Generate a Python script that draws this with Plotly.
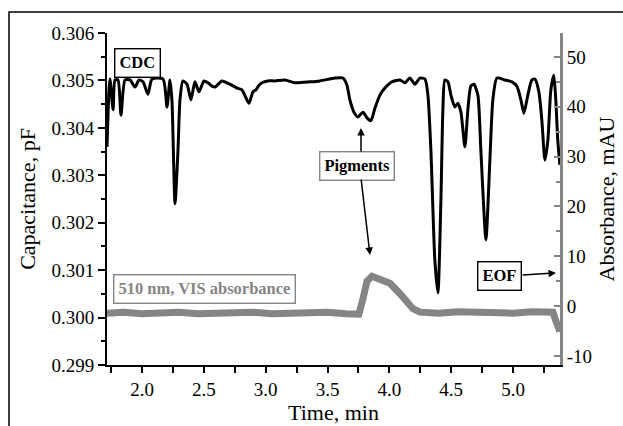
import plotly.graph_objects as go

# CDC trace (capacitance, pF) vs time (min)
cdc_time = [1.717, 1.733, 1.741, 1.766, 1.782, 1.806, 1.830, 1.863, 1.903, 1.943, 1.976, 2.008,
            2.048, 2.081, 2.170, 2.202, 2.226, 2.242, 2.267, 2.291, 2.307, 2.331, 2.364, 2.396,
            2.428, 2.461, 2.501, 2.533, 2.566, 2.590, 2.647, 2.711, 2.768, 2.808, 2.865, 2.897,
            2.921, 2.946, 2.970, 3.018, 3.075, 3.156, 3.237, 3.358, 3.439, 3.560, 3.625, 3.657,
            3.681, 3.714, 3.746, 3.787, 3.819, 3.851, 3.884, 3.924, 3.964, 4.021, 4.086, 4.126,
            4.166, 4.207, 4.247, 4.288, 4.312, 4.336, 4.368, 4.393, 4.417, 4.433, 4.449, 4.474,
            4.498, 4.530, 4.554, 4.579, 4.611, 4.635, 4.659, 4.684, 4.716, 4.740, 4.781, 4.813,
            4.837, 4.870, 4.934, 4.991, 5.031, 5.064, 5.088, 5.120, 5.152, 5.177, 5.209, 5.233,
            5.258, 5.282, 5.306, 5.330, 5.346, 5.362, 5.379]
cdc_cap = [0.30360, 0.30480, 0.30503, 0.30438, 0.30501, 0.30501, 0.30427, 0.30501, 0.30501, 0.30486,
           0.30501, 0.30497, 0.30471, 0.30503, 0.30503, 0.30444, 0.30501, 0.30459, 0.30240, 0.30353,
           0.30459, 0.30499, 0.30492, 0.30459, 0.30497, 0.30476, 0.30499, 0.30495, 0.30488, 0.30486,
           0.30499, 0.30492, 0.30484, 0.30480, 0.30452, 0.30476, 0.30480, 0.30490, 0.30495, 0.30499,
           0.30499, 0.30501, 0.30495, 0.30497, 0.30499, 0.30505, 0.30505, 0.30490, 0.30459, 0.30433,
           0.30423, 0.30433, 0.30421, 0.30415, 0.30442, 0.30469, 0.30484, 0.30497, 0.30501, 0.30495,
           0.30505, 0.30492, 0.30505, 0.30503, 0.30469, 0.30353, 0.30121, 0.30052, 0.30248, 0.30438,
           0.30501, 0.30497, 0.30469, 0.30444, 0.30452, 0.30433, 0.30360, 0.30438, 0.30488, 0.30492,
           0.30469, 0.30353, 0.30164, 0.30332, 0.30459, 0.30505, 0.30501, 0.30497, 0.30488, 0.30459,
           0.30431, 0.30469, 0.30501, 0.30503, 0.30476, 0.30417, 0.30332, 0.30374, 0.30480, 0.30511,
           0.30459, 0.30374, 0.30322]

# VIS absorbance at 510 nm (mAU) vs time (min)
vis_time = [1.717, 1.85, 2.00, 2.15, 2.30, 2.45, 2.60, 2.75, 2.90, 3.05, 3.20, 3.35, 3.50, 3.65,
            3.754, 3.787, 3.819, 3.859, 3.924, 4.005, 4.086, 4.191, 4.247, 4.40, 4.55, 4.70,
            4.85, 5.00, 5.15, 5.323, 5.347, 5.379]
vis_abs = [-1.4, -1.2, -1.5, -1.3, -1.2, -1.5, -1.3, -1.4, -1.2, -1.5, -1.3, -1.4, -1.2, -1.5,
           -1.6, 1.5, 5.0, 6.0, 5.5, 4.6, 2.5, -0.5, -1.2, -1.4, -1.1, -1.3, -1.2, -1.4, -1.1,
           -1.2, -3.0, -5.0]

x_ticks = [2.0, 2.5, 3.0, 3.5, 4.0, 4.5, 5.0]
abs_ticks = [-10, 0, 10, 20, 30, 40, 50]
abs_tick_text = ["-10", "0", "10", "20", "30", "40", "50"]

SERIF = "Liberation Serif"
GREY = "#858585"

fig = go.Figure()
fig.add_trace(go.Scatter(x=vis_time, y=vis_abs, yaxis="y2", mode="lines",
                         line=dict(color=GREY, width=7), showlegend=False))
fig.add_trace(go.Scatter(x=cdc_time, y=cdc_cap, mode="lines",
                         line=dict(color="black", width=3, shape="spline", smoothing=0.6),
                         showlegend=False))

W, H = 623, 426
L, R, T, B = 107, 63, 33, 61
pw, ph = W - L - R, H - T - B

def px(x):
    return (x - L) / pw

def py(y):
    return (H - B - y) / ph

fig.update_layout(
    width=W, height=H,
    margin=dict(l=L, r=R, t=T, b=B, autoexpand=False),
    paper_bgcolor="white", plot_bgcolor="white",
    font=dict(family=SERIF, color="black", size=19),
    xaxis=dict(range=[1.717, 5.38], tickvals=x_ticks, ticktext=[f"{v:.1f}" for v in x_ticks],
               ticks="outside", ticklen=6, tickwidth=1.5, tickcolor="black",
               minor=dict(dtick=0.25, tick0=0, ticks="outside", ticklen=6, tickwidth=1.5, tickcolor="black"),
               showline=True, linecolor="black", linewidth=2, showgrid=False, zeroline=False,
               automargin=False,
               title=dict(text="Time, min", font=dict(size=22), standoff=4),
               tickfont=dict(size=19)),
    yaxis=dict(range=[0.299, 0.306], dtick=0.001, tick0=0.299, tickformat=".3f",
               ticks="outside", ticklen=7, tickwidth=1.5, tickcolor="black",
               minor=dict(dtick=0.0005, tick0=0.299, ticks="outside", ticklen=4, tickwidth=1.5, tickcolor="black"),
               showline=True, linecolor="black", linewidth=2, showgrid=False, zeroline=False,
               automargin=False,
               title=dict(text="Capacitance, pF", font=dict(size=22), standoff=10),
               tickfont=dict(size=19)),
    yaxis2=dict(range=[-11.8, 54.8], tickvals=abs_ticks, ticktext=abs_tick_text,
                overlaying="y", side="right",
                ticks="inside", ticklen=6, tickwidth=2, tickcolor=GREY,
                minor=dict(dtick=5, tick0=0, ticks="inside", ticklen=4, tickwidth=2, tickcolor=GREY),
                showline=True, linecolor=GREY, linewidth=3, showgrid=False, zeroline=False,
                automargin=False,
                title=dict(text="Absorbance, mAU", font=dict(size=22), standoff=8),
                tickfont=dict(size=19, color="black")),
    shapes=[dict(type="rect", xref="paper", yref="paper",
                 x0=px(9), y0=py(460), x1=px(700), y1=py(12),
                 line=dict(color="black", width=1.5), fillcolor="rgba(0,0,0,0)", layer="below")],
)

box_font = dict(family=SERIF, size=16.5, color="black")
common = dict(xref="paper", yref="paper", showarrow=False, xanchor="center", yanchor="middle",
              borderwidth=1.4, borderpad=4, bgcolor="white")
fig.add_annotation(x=px(137), y=py(62.5), text="<b>CDC</b>", font=box_font,
                   bordercolor="black", **common)
fig.add_annotation(x=px(204), y=py(288.5), text="<b>510 nm, VIS absorbance</b>",
                   font=dict(family=SERIF, size=16.5, color=GREY), bordercolor=GREY, **common)
fig.add_annotation(x=px(357), y=py(165.5), text="<b>Pigments</b>", font=box_font,
                   bordercolor=GREY, **common)
fig.add_annotation(x=px(499.5), y=py(275.5), text="<b>EOF</b>", font=box_font,
                   bordercolor="black", **common)

arrow_style = dict(showarrow=True, arrowhead=2, arrowsize=1, arrowwidth=1.5, arrowcolor="black",
                   text="", xref="paper", yref="paper", axref="pixel", ayref="pixel")
fig.add_annotation(x=px(361), y=py(128), ax=0, ay=25, **arrow_style)
fig.add_annotation(x=px(370), y=py(255), ax=-9, ay=-77, **arrow_style)
fig.add_annotation(x=px(556), y=py(273), ax=-35, ay=2, **arrow_style)

fig.write_html("out.html")
